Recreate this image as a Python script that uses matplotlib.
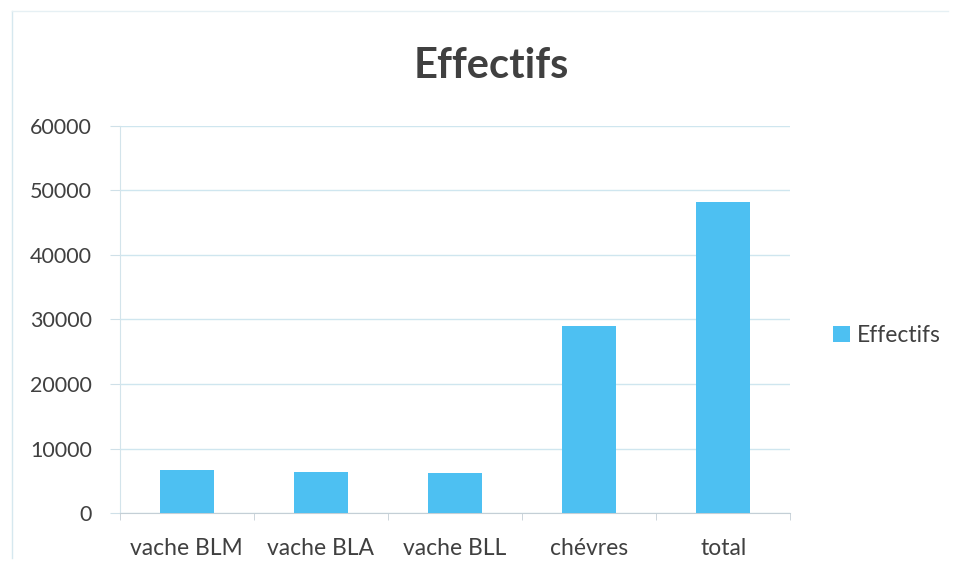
import matplotlib.pyplot as plt
import numpy as np

# data
categories = ['vache BLM', 'vache BLA', 'vache BLL', 'chévres', 'total']
effectifs = [6600, 6300, 6150, 29000, 48200]
yticks = [0, 10000, 20000, 30000, 40000, 50000, 60000]

plt.rcParams['font.family'] = ['Lato', 'DejaVu Sans']
txt = '#404040'
bar_col = '#4dc0f2'
grid_col = '#cfe6ef'

fig = plt.figure(figsize=(9.58, 5.69), dpi=100)
ax = fig.add_axes([0.125, 0.0984, 0.7, 0.6802])

x = np.arange(len(categories))
ax.bar(x, effectifs, width=0.4, color=bar_col, label='Effectifs', zorder=3)

ax.set_xlim(-0.5, len(categories) - 0.5)
ax.set_ylim(0, 60000)
ax.set_yticks(yticks)
ax.set_yticklabels([str(v) for v in yticks], fontsize=15.5, color=txt)
ax.set_xticks(x)
ax.set_xticklabels(categories, fontsize=16.5, color=txt)
ax.tick_params(axis='x', length=0, pad=18)
ax.tick_params(axis='y', length=7, color='#cfe0e8', pad=13)
# ticks between categories
ax.set_xticks(np.arange(-0.5, len(categories)), minor=True)
ax.tick_params(axis='x', which='minor', length=5, color='#c4cfd6')

ax.grid(axis='y', color=grid_col, linewidth=1, zorder=0)
for s in ['top', 'right']:
    ax.spines[s].set_visible(False)
ax.spines['left'].set_color('#d3e4eb')
ax.spines['bottom'].set_color('#c4cfd6')

fig.text(0.513, 0.884, 'Effectifs', ha='center', va='center',
         fontsize=30, fontweight='bold', color=txt)

fig.legend(loc='center left', bbox_to_anchor=(0.870, 0.41), frameon=False,
           fontsize=16.5, handlelength=0.7, handleheight=0.7, handletextpad=0.3,
           labelcolor=txt, borderpad=0, borderaxespad=0)

# faint chart border
fig.add_artist(plt.Line2D([0.013, 0.013], [0.02, 0.98], color='#d6e8ef', lw=1))
fig.add_artist(plt.Line2D([0.013, 0.99], [0.98, 0.98], color='#e6f0f4', lw=1))

fig.savefig('out.png', dpi=100)
